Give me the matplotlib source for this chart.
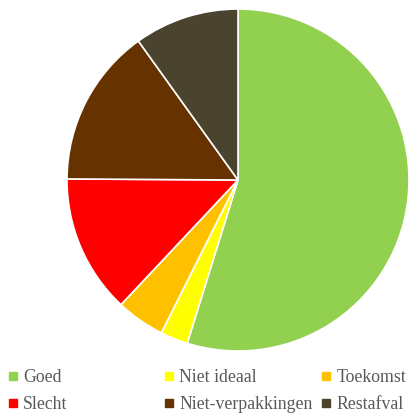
import matplotlib.pyplot as plt
from matplotlib.lines import Line2D

labels = ["Goed", "Niet ideaal", "Toekomst", "Slecht", "Niet-verpakkingen", "Restafval"]
values = [54.8, 2.6, 4.6, 13.1, 15.0, 9.9]
colors = ["#92D050", "#FFFF00", "#FFC000", "#FF0000", "#663300", "#4A432D"]

W, H = 414, 420
fig = plt.figure(figsize=(W / 100, H / 100), dpi=100)
ax = fig.add_axes([67 / W, (H - 351) / H, 342 / W, 342 / H])
ax.pie(values, colors=colors, startangle=90, counterclock=False, radius=1,
       wedgeprops=dict(edgecolor="white", linewidth=1.2))
ax.set_xlim(-1, 1)
ax.set_ylim(-1, 1)
ax.axis("off")

# legend in three columns, placed by hand
cols = [[0, 3], [1, 4], [2, 5]]
col_x = [9, 165, 322]
for idx, x in zip(cols, col_x):
    handles = [Line2D([], [], marker="s", linestyle="", markersize=5.5,
                      markerfacecolor=colors[i], markeredgecolor=colors[i]) for i in idx]
    leg = fig.legend(handles, [labels[i] for i in idx], loc="upper left",
                     bbox_to_anchor=(x / W, 1 - 369 / H), frameon=False,
                     borderpad=0, borderaxespad=0, handlelength=0.5, handletextpad=0.3,
                     labelspacing=0.55,
                     prop={"family": ["Liberation Serif", "DejaVu Serif"], "size": 12.8})
    for t in leg.get_texts():
        t.set_color("#595959")

fig.savefig("out.png", dpi=100)
